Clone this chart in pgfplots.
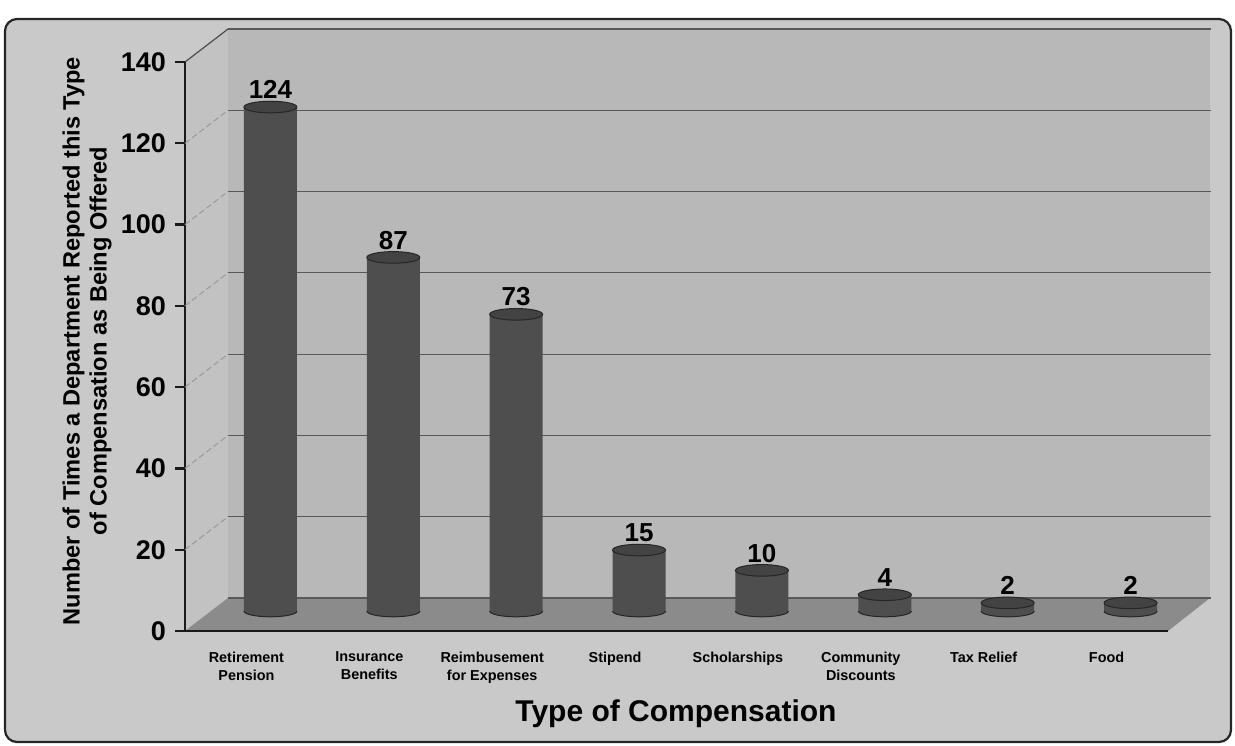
\documentclass[border=0pt]{standalone}
\usepackage{pgfplots}
\pgfplotsset{compat=1.18}
\usepackage{pgfplotstable}
\usepackage{fontspec}
\setmainfont{Liberation Sans}

\definecolor{framebg}{HTML}{C9C9C9}
\definecolor{wallbg}{HTML}{B8B8B8}
\definecolor{sidewall}{HTML}{C2C2C2}
\definecolor{floorbg}{HTML}{8B8B8B}
\definecolor{barfill}{HTML}{4E4E4E}
\definecolor{bartop}{HTML}{434343}

% elliptical cap of a cylinder
\pgfdeclareplotmark{cylcap}{%
  \pgfpathellipse{\pgfpointorigin}{\pgfqpoint{13.25pt}{0pt}}{\pgfqpoint{0pt}{2.9pt}}%
  \pgfusepathqfillstroke}
% lower half of the ellipse: the rounded foot of a cylinder
\pgfdeclareplotmark{cylfoot}{%
  \pgfpathmoveto{\pgfqpoint{-13.25pt}{0pt}}%
  \pgfpatharc{180}{360}{13.25pt and 2.9pt}%
  \pgfpathclose
  \pgfusepathqfill
  \pgfpathmoveto{\pgfqpoint{-13.25pt}{0pt}}%
  \pgfpatharc{180}{360}{13.25pt and 2.9pt}%
  \pgfusepathqstroke}

\pgfplotstableread{
x v
1 124
2 87
3 73
4 15
5 10
6 4
7 2
8 2
}\comptable

\begin{document}
\begin{tikzpicture}
\path[use as bounding box] (0,0) rectangle (617.5pt,-372.5pt);

% frame
\draw[line width=1.1pt, black!85, fill=framebg, rounded corners=6pt]
  (2.5pt,-9.5pt) rectangle (615.5pt,-371pt);

% walls and floor (coordinates in pixels, y downwards)
\begin{scope}[x=0.5pt,y=-0.5pt]
  \fill[sidewall] (185,62) -- (228,29) -- (228,598) -- (185,631) -- cycle;
  \fill[wallbg] (228,29) rectangle (1210,598);
  \fill[floorbg] (185,631) -- (228,598) -- (1210,598) -- (1168,631) -- cycle;
  \draw[black!70, line width=0.6pt] (185,62) -- (228,29) -- (1210,29);
\end{scope}

\begin{axis}[
  at={(92.5pt,-315.5pt)}, anchor=south west,
  scale only axis, width=491.5pt, height=284.5pt,
  xmin=0.5, xmax=8.5, ymin=0, ymax=140,
  clip=false,
  axis lines*=left,
  axis line style={line width=1.2pt, black!90},
  tick align=outside,
  major tick length=5pt,
  ytick={0,20,...,140},
  ytick style={line width=1.1pt, black!90},
  yticklabel style={font=\bfseries\fontsize{13.5}{14}\selectfont, xshift=-1pt},
  /pgf/number format/assume math mode=true,
  xtick={1,...,8},
  major x tick style={draw=none},
  xticklabels={{Retirement\\Pension},{Insurance\\Benefits},{Reimbusement\\for Expenses},
    {Stipend},{Scholarships},{Community\\Discounts},{Tax Relief},{Food}},
  xticklabel style={align=center, font=\bfseries\fontsize{7.2}{9}\selectfont,
    anchor=north, yshift=-2pt},
  extra x ticks={0.5,1.5,...,8.5},
  extra x tick labels={},
  extra x tick style={major tick length=6pt,
    tick style={draw=black!90, line width=1.1pt}, grid=none},
  ymajorgrids,
  major grid style={xshift=21.5pt, yshift=16.5pt, line width=0.6pt, black!65},
]
  % receding grid lines on the side wall
  \pgfplotsinvokeforeach{20,40,...,120}{
    \draw[black!40, line width=0.5pt, dash pattern=on 3pt off 1.5pt]
      (axis cs:0.5,#1) -- ++(21.5pt,16.5pt);
  }

  % cylinder feet
  \addplot[only marks, mark=cylfoot,
    mark options={fill=barfill, draw=black!85, line width=0.5pt},
    xshift=12pt, yshift=10pt]
    table[x=x, y expr=0] {\comptable};
  % cylinder bodies
  \addplot[ybar, bar width=26.5pt, bar shift=0pt, fill=barfill, draw=none,
    xshift=12pt, yshift=10pt]
    table[x=x, y=v] {\comptable};
  % cylinder tops with value labels
  \addplot[only marks, mark=cylcap,
    mark options={fill=bartop, draw=black!85, line width=0.5pt},
    xshift=12pt, yshift=10pt,
    nodes near coords,
    nodes near coords align={anchor=south},
    every node near coord/.append style={inner sep=0pt, yshift=3.8pt,
      font=\bfseries\fontsize{13}{13}\selectfont, black}]
    table[x=x, y=v] {\comptable};
\end{axis}

% axis titles
\node[rotate=90, align=center, font=\bfseries\fontsize{11.8}{13.5}\selectfont]
  at (43.5pt,-170.5pt)
  {Number of Times a Department Reported this Type\\of Compensation as Being Offered};
\node[font=\bfseries\fontsize{15}{15}\selectfont] at (338pt,-357pt) {Type of Compensation};
\end{tikzpicture}
\end{document}
